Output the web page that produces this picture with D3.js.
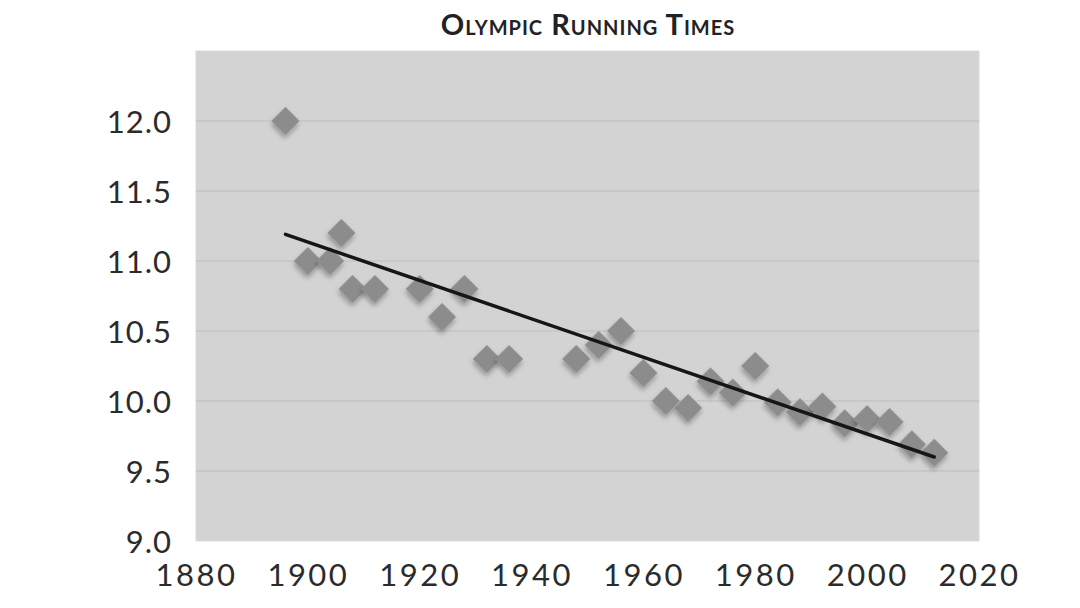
<!DOCTYPE html>
<html lang="en">
<head>
    <title>Olympic Running Times</title>
    <meta charset="utf-8">
    <script src="https://cdnjs.cloudflare.com/ajax/libs/d3/7.8.5/d3.min.js"></script>
    <style>
        body { margin: 0; background: #fff; }
        svg { display: block; }
        .tick-label { font-family: Lato, "Open Sans", sans-serif; font-weight: 400; font-size: 31px; fill: #2b2b2b; letter-spacing: 1px; }
        .x-label { letter-spacing: 2.5px; }
        .title { font-family: Lato, sans-serif; font-weight: 700; font-size: 29px; font-variant: small-caps; fill: #222; letter-spacing: 1px; }
    </style>
</head>
<body>
<div id="viz"></div>
<script>
    // winning times, men's 100m
    var years = [1896, 1900, 1904, 1906, 1908, 1912, 1920, 1924, 1928, 1932, 1936,
                 1948, 1952, 1956, 1960, 1964, 1968, 1972, 1976, 1980, 1984, 1988,
                 1992, 1996, 2000, 2004, 2008, 2012];
    var times = [12.0, 11.0, 11.0, 11.2, 10.8, 10.8, 10.8, 10.6, 10.8, 10.3, 10.3,
                 10.3, 10.4, 10.5, 10.2, 10.0, 9.95, 10.14, 10.06, 10.25, 9.99, 9.92,
                 9.96, 9.84, 9.87, 9.85, 9.69, 9.63];
    // trend line ends
    var trendYears = [1896, 2012];
    var trendTimes = [11.19, 9.60];
    var xTicks = [1880, 1900, 1920, 1940, 1960, 1980, 2000, 2020];
    var yTicks = [9.0, 9.5, 10.0, 10.5, 11.0, 11.5, 12.0];

    var width = 1080, height = 608;
    var margin = {top: 51, right: 101, bottom: 67, left: 197};

    var svg = d3.select("#viz").append("svg")
        .attr("width", width)
        .attr("height", height);

    var defs = svg.append("defs");
    var shadow = defs.append("filter")
        .attr("id", "shadow")
        .attr("x", "-50%").attr("y", "-50%")
        .attr("width", "200%").attr("height", "200%");
    shadow.append("feDropShadow")
        .attr("dx", 2).attr("dy", 3)
        .attr("stdDeviation", 2.5)
        .attr("flood-color", "#000")
        .attr("flood-opacity", 0.3);

    var x = d3.scaleLinear()
        .domain([1880, 2020])
        .range([margin.left - 1, width - margin.right]);
    var y = d3.scaleLinear()
        .domain([9.0, 12.5])
        .range([height - margin.bottom, margin.top]);

    svg.append("text")
        .attr("class", "title")
        .attr("x", 588)
        .attr("y", 35)
        .attr("text-anchor", "middle")
        .text("Olympic Running Times");

    svg.append("rect")
        .attr("x", x(1880))
        .attr("y", y(12.5))
        .attr("width", x(2020) - x(1880))
        .attr("height", y(9.0) - y(12.5))
        .style("fill", "#d3d3d3")
        .style("stroke", "#dadada")
        .style("stroke-width", 1);

    // gridlines
    svg.append("g")
        .selectAll("line")
        .data(yTicks.filter(d => d > 9.0))
        .enter()
        .append("line")
        .attr("x1", x(1880))
        .attr("x2", x(2020))
        .attr("y1", d => y(d))
        .attr("y2", d => y(d))
        .style("stroke", "#c8c8c8")
        .style("stroke-width", 2);

    var yAxis = svg.append("g")
        .attr("transform", "translate(" + (margin.left - 25) + ",0)")
        .call(d3.axisLeft(y).tickValues(yTicks).tickFormat(d3.format(".1f")).tickSize(0).tickPadding(0));
    yAxis.select(".domain").remove();
    yAxis.selectAll("text")
        .attr("class", "tick-label")
        .attr("dy", "0.36em")
        .attr("font-family", null)
        .attr("font-size", null);

    var xAxis = svg.append("g")
        .attr("transform", "translate(0," + (height - margin.bottom) + ")")
        .call(d3.axisBottom(x).tickValues(xTicks).tickFormat(d3.format("d")).tickSize(0).tickPadding(0));
    xAxis.select(".domain").remove();
    xAxis.selectAll("text")
        .attr("class", "tick-label x-label")
        .attr("y", 45)
        .attr("dy", 0)
        .attr("font-family", null)
        .attr("font-size", null);

    var points = years.map((yr, i) => ({year: yr, time: times[i]}));

    svg.append("g")
        .selectAll("path.point")
        .data(points)
        .enter()
        .append("path")
        .attr("class", "point")
        .attr("d", d3.symbol().type(d3.symbolSquare).size(392))
        .attr("transform", d => `translate(${x(d.year)},${y(d.time)}) rotate(45)`)
        .style("fill", "#8c8c8c")
        .attr("filter", "url(#shadow)");

    var trend = trendYears.map((yr, i) => [yr, trendTimes[i]]);
    svg.append("path")
        .datum(trend)
        .attr("d", d3.line().x(d => x(d[0])).y(d => y(d[1])))
        .style("fill", "none")
        .style("stroke", "#161616")
        .style("stroke-width", 3.5)
        .style("stroke-linecap", "round");
</script>
</body>
</html>
